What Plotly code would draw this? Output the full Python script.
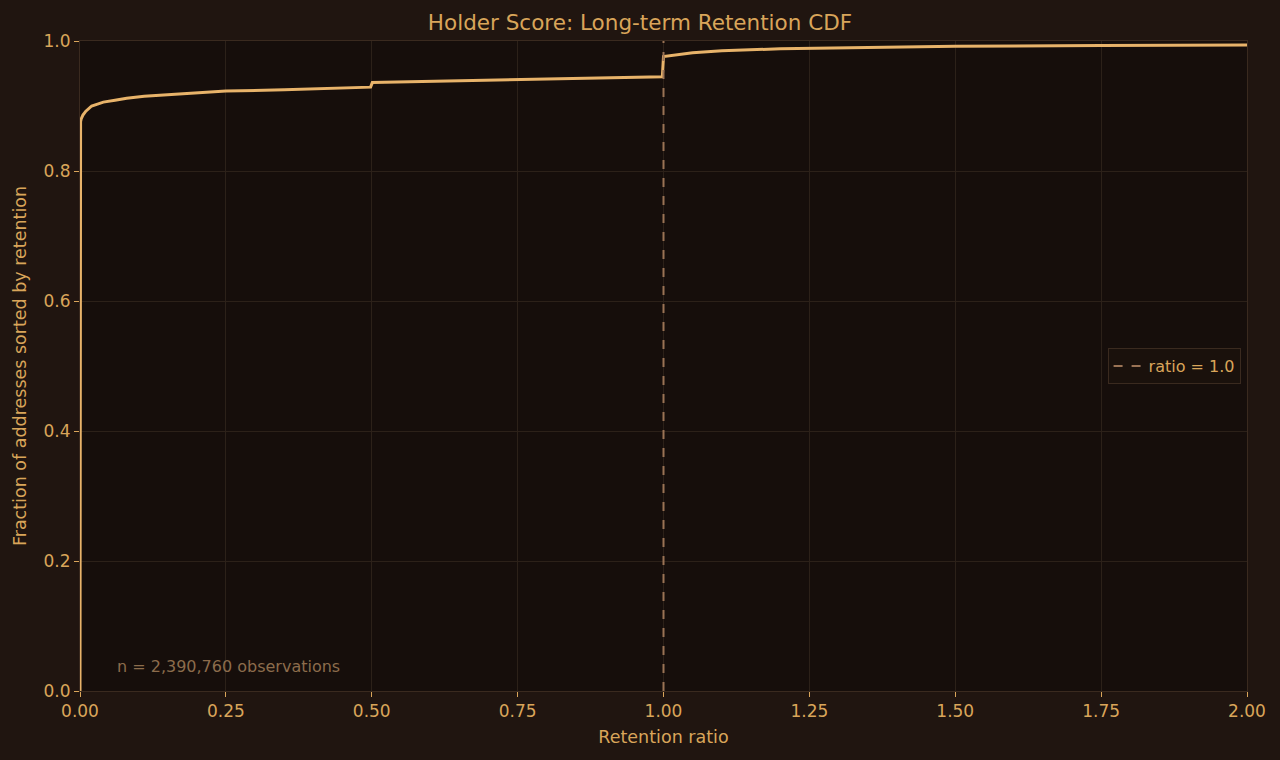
import plotly.graph_objects as go

# CDF of retention ratio
retention = [0, 0, 0.001, 0.002, 0.003, 0.005, 0.01, 0.015, 0.02, 0.03, 0.04, 0.06, 0.08, 0.11, 0.15, 0.2,
             0.25, 0.35, 0.45, 0.498, 0.501, 0.6, 0.75, 0.9, 0.998, 1.0, 1.02, 1.05, 1.1, 1.2, 1.35,
             1.5, 1.75, 2.0]
fraction = [0, 0.872, 0.876, 0.880, 0.883, 0.886, 0.892, 0.896, 0.900, 0.903, 0.906, 0.909, 0.912, 0.915,
            0.917, 0.920, 0.923, 0.925, 0.928, 0.929, 0.936, 0.938, 0.941, 0.944, 0.945, 0.976, 0.978,
            0.982, 0.985, 0.988, 0.990, 0.992, 0.993, 0.994]

ref_x = [1.0, 1.0]
ref_y = [0, 1]

n_obs = 2390760

txt = "#d9a55a"
fig = go.Figure()
fig.add_trace(go.Scatter(x=retention, y=fraction, mode="lines", showlegend=False,
                         line=dict(color="#e8b36a", width=3), hoverinfo="skip"))
fig.add_trace(go.Scatter(x=ref_x, y=ref_y, mode="lines", name="ratio = 1.0",
                         line=dict(color="#9a7355", width=2, dash="dash")))

fig.add_annotation(x=0.03, y=0.038, xref="paper", yref="paper", xanchor="left", yanchor="middle",
                   text=f"n = {n_obs:,} observations", showarrow=False,
                   font=dict(size=16, color="#8c6c4c"))

axis_common = dict(showgrid=True, gridcolor="#2c2119", gridwidth=1, zeroline=False,
                   showline=True, mirror=True, linecolor="#3a2a1f", linewidth=1,
                   ticks="outside", tickcolor=txt, ticklen=5,
                   tickfont=dict(size=17, color=txt), title_font=dict(size=17.5, color=txt))

fig.update_xaxes(range=[0, 2], tick0=0, dtick=0.25, tickformat=".2f",
                 title_text="Retention ratio", title_standoff=10, **axis_common)
fig.update_yaxes(range=[0, 1], tick0=0, dtick=0.2, tickformat=".1f",
                 title_text="Fraction of addresses sorted by retention", title_standoff=12, **axis_common)

fig.update_layout(
    width=1280, height=760,
    paper_bgcolor="#201510", plot_bgcolor="#160e0b",
    font=dict(family="DejaVu Sans", color=txt),
    title=dict(text="Holder Score: Long-term Retention CDF", x=0.5, xanchor="center",
               y=0.971, yanchor="middle", font=dict(size=21.5, color=txt)),
    margin=dict(l=80, r=33, t=41, b=69),
    legend=dict(x=0.9945, y=0.5, xanchor="right", yanchor="middle",
                bgcolor="#1a110c", bordercolor="#3a2a1f", borderwidth=1,
                font=dict(size=16, color=txt)),
)

fig.write_html("out.html", config={"displayModeBar": False},
               post_script="document.body.style.margin='0';document.body.style.background='#201510';")
